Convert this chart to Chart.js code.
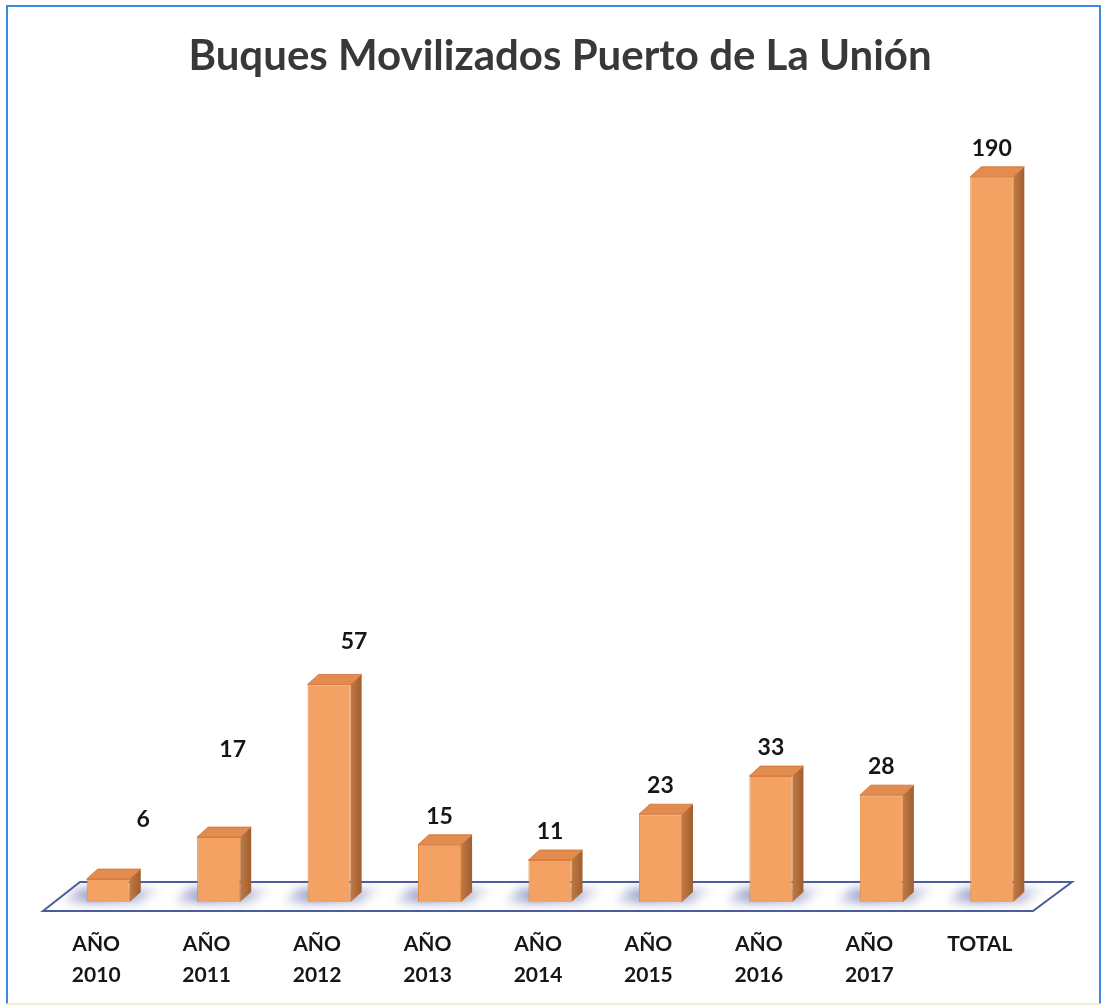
<!DOCTYPE html>
<html><head><meta charset="utf-8">
<script src="https://cdn.jsdelivr.net/npm/chart.js@4.4.0/dist/chart.umd.min.js"></script>
<style>html,body{margin:0;padding:0;background:#fff;}canvas{display:block;}</style>
</head><body>
<canvas id="c" width="1102" height="1007"></canvas>
<script>
// ---- data ----
const categories = [['AÑO','2010'],['AÑO','2011'],['AÑO','2012'],['AÑO','2013'],['AÑO','2014'],['AÑO','2015'],['AÑO','2016'],['AÑO','2017'],['TOTAL']];
const buques = [6, 17, 57, 15, 11, 23, 33, 28, 190];
const chartTitle = 'Buques Movilizados Puerto de La Unión';

// ---- styling (label placement relative to each bar) ----
const labelShiftX = [35, 14, 25, 0, 0, 0, 0, 0, 0];
const labelRise   = [52, 80, 35, 21, 21, 21, 21, 21, 21];
const depthX = 11, depthY = 10;

const threeD = {
  id: 'threeD',
  beforeDraw(chart) {
    const ctx = chart.ctx;
    ctx.save();
    ctx.fillStyle = '#ffffff';
    ctx.fillRect(0, 0, chart.width, chart.height);
    ctx.strokeStyle = '#3f8ae0';
    ctx.lineWidth = 2;
    ctx.beginPath();
    ctx.moveTo(7, 1004); ctx.lineTo(7, 6); ctx.lineTo(1100, 6); ctx.lineTo(1100, 1004);
    ctx.stroke();
    ctx.strokeStyle = '#efeccf';
    ctx.beginPath(); ctx.moveTo(7, 1004); ctx.lineTo(1100, 1004); ctx.stroke();
    // title
    ctx.fillStyle = '#383838';
    ctx.font = 'bold 42px Lato';
    ctx.textAlign = 'center';
    ctx.textBaseline = 'alphabetic';
    ctx.fillText(chartTitle, 560, 70);
    ctx.restore();
  },
  beforeDatasetsDraw(chart) {
    const ctx = chart.ctx, a = chart.chartArea;
    const meta = chart.getDatasetMeta(0);
    const base = meta.data[0].base;
    const backY = base - 20, frontY = base + 9;
    ctx.save();
    ctx.beginPath();
    ctx.moveTo(a.left - 10, frontY);
    ctx.lineTo(a.left + 27, backY);
    ctx.lineTo(a.right + 25, backY);
    ctx.lineTo(a.right - 14, frontY);
    ctx.closePath();
    ctx.fillStyle = '#ffffff';
    ctx.fill();
    ctx.strokeStyle = '#4d5c9c';
    ctx.lineWidth = 2;
    ctx.stroke();
    // shadows
    meta.data.forEach(bar => {
      const L = bar.x - bar.width / 2, R = bar.x + bar.width / 2;
      ctx.save();
      ctx.filter = 'blur(5px)';
      const g = ctx.createLinearGradient(L - 24, 0, R + depthX + 22, 0);
      g.addColorStop(0, 'rgba(90,100,165,0.15)');
      g.addColorStop(0.3, 'rgba(90,100,165,0.65)');
      g.addColorStop(0.75, 'rgba(110,118,175,0.45)');
      g.addColorStop(1, 'rgba(120,128,180,0.05)');
      ctx.fillStyle = g;
      ctx.beginPath();
      ctx.moveTo(L - 24, base + 1);
      ctx.lineTo(R + 10, base + 1);
      ctx.lineTo(R + depthX + 22, base - depthY - 4);
      ctx.lineTo(L - 10, base - depthY - 4);
      ctx.closePath();
      ctx.fill();
      ctx.restore();
    });
    ctx.restore();
  },
  afterDatasetsDraw(chart) {
    const ctx = chart.ctx;
    const meta = chart.getDatasetMeta(0);
    ctx.save();
    meta.data.forEach((bar, i) => {
      const L = bar.x - bar.width / 2, R = bar.x + bar.width / 2;
      const top = bar.y, base = bar.base;
      // side face
      const sg = ctx.createLinearGradient(R, 0, R + depthX, 0);
      sg.addColorStop(0, '#c07a43');
      sg.addColorStop(1, '#a05f30');
      ctx.fillStyle = sg;
      ctx.beginPath();
      ctx.moveTo(R, top);
      ctx.lineTo(R + depthX, top - depthY);
      ctx.lineTo(R + depthX, base - depthY);
      ctx.lineTo(R, base);
      ctx.closePath();
      ctx.fill();
      // top face
      ctx.fillStyle = '#e38c4f';
      ctx.beginPath();
      ctx.moveTo(L, top);
      ctx.lineTo(L + depthX, top - depthY);
      ctx.lineTo(R + depthX, top - depthY);
      ctx.lineTo(R, top);
      ctx.closePath();
      ctx.fill();
      ctx.strokeStyle = 'rgba(210,110,50,0.8)';
      ctx.lineWidth = 1;
      ctx.stroke();
      // value label
      ctx.fillStyle = '#161616';
      ctx.font = 'bold 23px Lato';
      ctx.textAlign = 'center';
      ctx.textBaseline = 'alphabetic';
      ctx.fillText(String(buques[i]), bar.x + labelShiftX[i], top - labelRise[i]);
    });
    ctx.restore();
  }
};

new Chart(document.getElementById('c'), {
  type: 'bar',
  data: {
    labels: categories,
    datasets: [{
      data: buques,
      backgroundColor: '#f4a263',
      borderColor: '#e2893f',
      borderWidth: 1,
      barPercentage: 0.39,
      categoryPercentage: 1.0
    }]
  },
  options: {
    responsive: false,
    animation: false,
    layout: { padding: { left: 53, right: 55, top: 89, bottom: 17 } },
    plugins: {
      legend: { display: false },
      tooltip: { enabled: false },
      title: { display: false }
    },
    scales: {
      x: {
        grid: { display: false, drawTicks: false },
        border: { display: false },
        afterFit(scale) { scale.height = 88; },
        ticks: {
          color: '#161616',
          font: { family: 'Lato', size: 21, weight: 'bold', lineHeight: '31px' },
          padding: 27,
          labelOffset: -12,
          maxRotation: 0,
          autoSkip: false
        }
      },
      y: {
        display: false,
        min: 0,
        max: 213
      }
    }
  },
  plugins: [threeD]
});
</script>
</body></html>
